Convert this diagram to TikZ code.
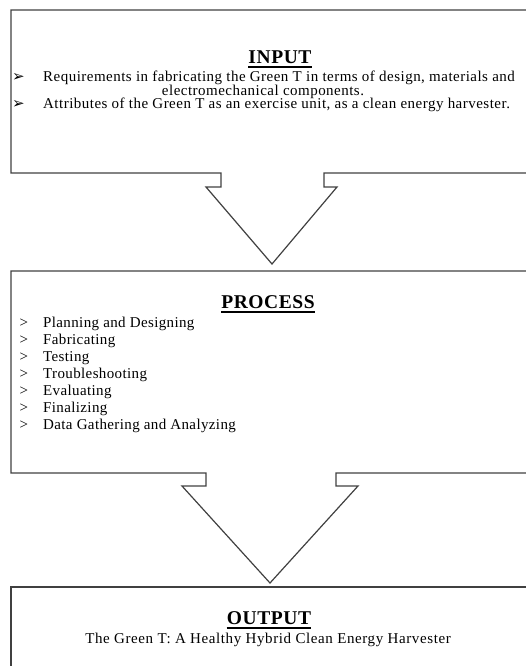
\documentclass[tikz,border=0pt]{standalone}
\usepackage{fontspec}
\setmainfont{Liberation Serif}
\newfontfamily\dingfont{DejaVu Sans}
\begin{document}
\begin{tikzpicture}[x=1pt,y=-1pt,
  frame/.style={draw=black!75, line width=1.2pt, line join=miter},
  uline/.style={draw=black, line width=1.2pt},
  title/.style={font=\fontsize{19.5}{22}\selectfont\bfseries\addfontfeature{LetterSpace=3}, inner sep=0pt, anchor=base},
  body/.style={font=\fontsize{15}{17}\selectfont\addfontfeature{LetterSpace=3.2}, inner sep=0pt, anchor=base west},
  bodyc/.style={font=\fontsize{15}{17}\selectfont\addfontfeature{LetterSpace=3.2}, inner sep=0pt, anchor=base},
  outc/.style={font=\fontsize{15}{17}\selectfont\addfontfeature{LetterSpace=4}, inner sep=0pt, anchor=base},
  item/.style={font=\fontsize{15}{17}\selectfont\addfontfeature{LetterSpace=2.5}, inner sep=0pt, anchor=base west},
  ding/.style={font=\dingfont\fontsize{15}{17}\selectfont, inner sep=0pt, anchor=base west},
  gt/.style={font=\fontsize{15}{17}\selectfont, inner sep=0pt, anchor=base west}
]
\path[use as bounding box] (0,0) rectangle (526,666);
\clip (0,0) rectangle (526,666);

% INPUT box with block arrow
\draw[frame] (11,10) -- (540,10) -- (540,173) -- (324,173) -- (324,187) -- (337,187)
  -- (272,264) -- (206,187) -- (221,187) -- (221,173) -- (11,173) -- cycle;
% PROCESS box with block arrow
\draw[frame] (11,271) -- (540,271) -- (540,473) -- (336,473) -- (336,486) -- (358,486)
  -- (270,583) -- (182,486) -- (206,486) -- (206,473) -- (11,473) -- cycle;
% OUTPUT box
\draw[frame] (11,587) -- (540,587) -- (540,690) -- (11,690) -- cycle;

% INPUT text
\node[title] (tin) at (280,64) {INPUT};
\draw[uline] ([yshift=-3pt]tin.base west) -- ([yshift=-3pt]tin.base east);
\node[ding] (b1) at (12,82) {➢};
\node[body] (i1) at (43,82) {Requirements in fabricating the Green T in terms of design, materials and};
\node[bodyc] (i2) at (263,95.5) {electromechanical components.};
\node[ding] (b2) at (12,109) {➢};
\node[body] (i3) at (43,109) {Attributes of the Green T as an exercise unit, as a clean energy harvester.};

% PROCESS text
\node[title] (tpr) at (268,308.5) {PROCESS};
\draw[uline] ([yshift=-3.5pt]tpr.base west) -- ([yshift=-3.5pt]tpr.base east);
\foreach \t [count=\i from 0] in {Planning and Designing, Fabricating, Testing, Troubleshooting, Evaluating, Finalizing, Data Gathering and Analyzing}{
  \node[gt] (g\i) at (19.5,327.5+17*\i) {>};
  \node[item] (p\i) at (43,327.5+17*\i) {\t};
}

% OUTPUT text
\node[title] (tout) at (269,624.5) {OUTPUT};
\draw[uline] ([yshift=-3.5pt]tout.base west) -- ([yshift=-3.5pt]tout.base east);
\node[outc] (o1) at (268,643) {The Green T: A Healthy Hybrid Clean Energy Harvester};
\end{tikzpicture}
\end{document}
